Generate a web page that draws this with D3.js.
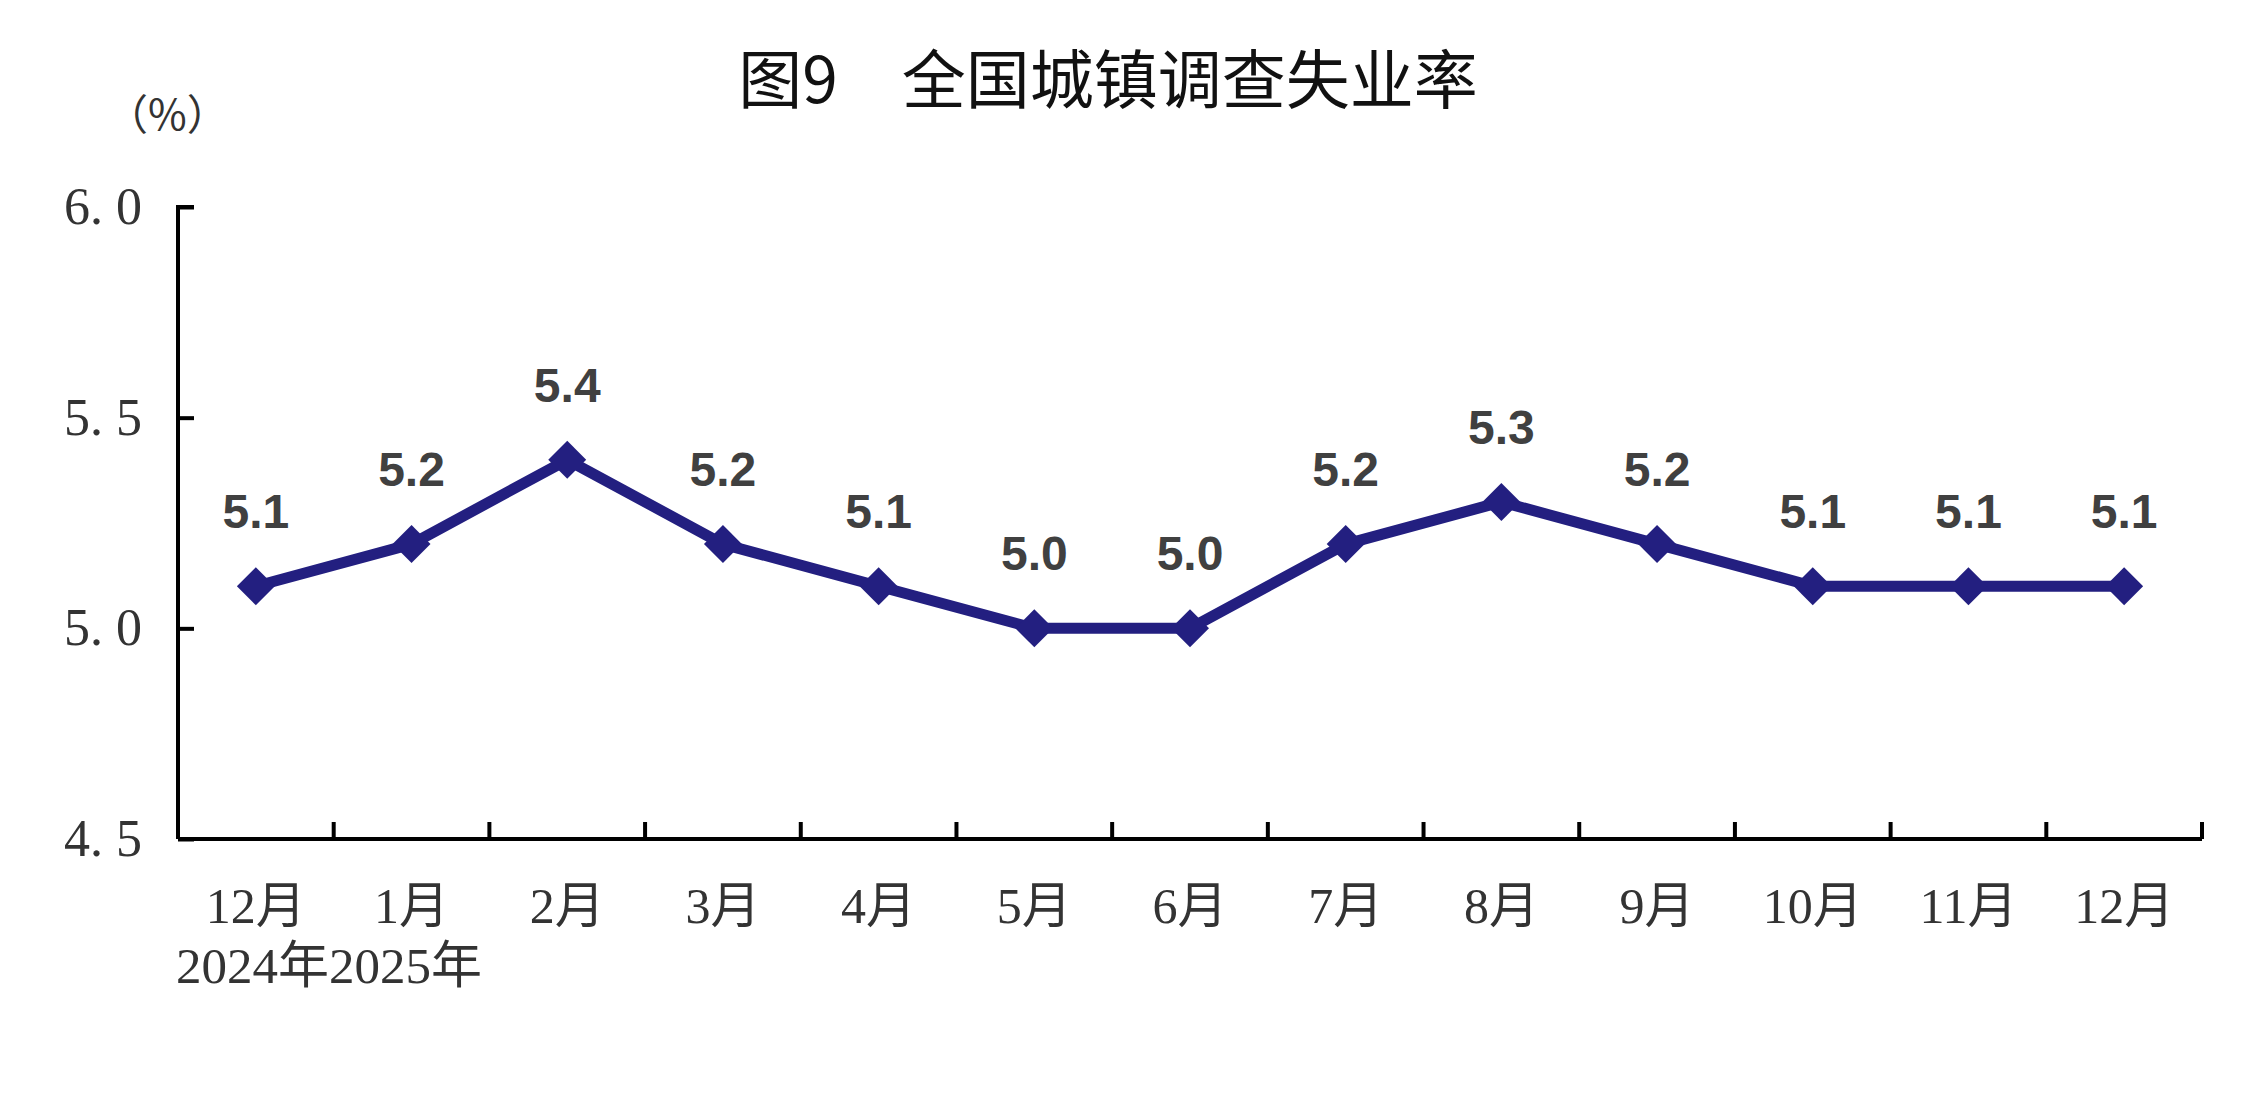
<!DOCTYPE html>
<html>
<head>
<meta charset="utf-8">
<script src="https://cdn.jsdelivr.net/npm/d3@7"></script>
<style>
  body { margin: 0; background: #fff; }
  svg { display: block; }
</style>
</head>
<body>
<svg width="2267" height="1106"></svg>
<script>
// data
const months = ["12月", "1月", "2月", "3月", "4月", "5月", "6月", "7月", "8月", "9月", "10月", "11月", "12月"];
const rates = [5.1, 5.2, 5.4, 5.2, 5.1, 5.0, 5.0, 5.2, 5.3, 5.2, 5.1, 5.1, 5.1];
const yTicks = [4.5, 5.0, 5.5, 6.0];
const yearNote = "2024年2025年";
const titleText = "图9　全国城镇调查失业率";
const unitText = "（%）";

const svg = d3.select("svg");
const width = +svg.attr("width");
const margin = { top: 207, right: 65, bottom: 267, left: 178 };
const height = +svg.attr("height");
const innerW = width - margin.left - margin.right;
const innerH = height - margin.top - margin.bottom;

const serif = "'Liberation Serif', 'DejaVu Serif', 'Noto Sans CJK SC', serif";
const sans = "'Liberation Sans', Arial, sans-serif";
const lineColor = "#231f80";

const x = d3.scaleBand().domain(d3.range(months.length)).range([0, innerW]);
const y = d3.scaleLinear().domain([4.5, 6.0]).range([innerH, 0]);

// title
svg.append("text")
  .attr("x", 1108).attr("y", 103)
  .attr("text-anchor", "middle")
  .attr("font-family", "'Noto Sans CJK SC', sans-serif")
  .attr("font-size", 64)
  .attr("fill", "#111")
  .text(titleText);

svg.append("text")
  .attr("x", 106).attr("y", 130)
  .attr("font-family", "'Noto Sans CJK SC', serif")
  .attr("font-size", 42)
  .attr("fill", "#333")
  .text(unitText);

const g = svg.append("g").attr("transform", `translate(${margin.left},${margin.top})`);

// y axis
const yAxis = g.append("g")
  .call(d3.axisLeft(y).tickValues(yTicks).tickSize(-16).tickPadding(36)
    .tickFormat(d => d.toFixed(1).replace(".", ". ")));
yAxis.select(".domain").attr("stroke", "#000").attr("stroke-width", 4)
  .attr("d", `M16,0H0V${innerH}`);
yAxis.selectAll(".tick line").attr("stroke", "#000").attr("stroke-width", 4);
yAxis.selectAll(".tick text")
  .attr("font-family", serif).attr("font-size", 52).attr("fill", "#333");

// x axis, ticks between categories pointing up
const xAxisG = g.append("g").attr("transform", `translate(0,${innerH})`);
xAxisG.append("line")
  .attr("x1", 0).attr("x2", innerW).attr("y1", 0).attr("y2", 0)
  .attr("stroke", "#000").attr("stroke-width", 4);
xAxisG.selectAll(".xtick")
  .data(d3.range(1, months.length + 1))
  .enter().append("line")
  .attr("x1", i => i === months.length ? innerW : x(i))
  .attr("x2", i => i === months.length ? innerW : x(i))
  .attr("y1", 0).attr("y2", -17)
  .attr("stroke", "#000").attr("stroke-width", 4);
xAxisG.selectAll(".xlabel")
  .data(months)
  .enter().append("text")
  .attr("x", (d, i) => x(i) + x.bandwidth() / 2)
  .attr("y", 84)
  .attr("text-anchor", "middle")
  .attr("font-family", serif)
  .attr("font-size", 50)
  .attr("fill", "#333")
  .text(d => d);
xAxisG.append("text")
  .attr("x", -2).attr("y", 144)
  .attr("font-family", serif)
  .attr("font-size", 51)
  .attr("fill", "#333")
  .text(yearNote);

// line
const cx = (d, i) => x(i) + x.bandwidth() / 2;
g.append("path")
  .datum(rates)
  .attr("fill", "none")
  .attr("stroke", lineColor)
  .attr("stroke-width", 11)
  .attr("stroke-linejoin", "round")
  .attr("d", d3.line().x(cx).y(d => y(d)));

// diamond markers
g.selectAll(".marker")
  .data(rates)
  .enter().append("path")
  .attr("transform", (d, i) => `translate(${cx(d, i)},${y(d)}) rotate(45)`)
  .attr("d", d3.symbol().type(d3.symbolSquare).size(720))
  .attr("fill", lineColor);

// value labels
g.selectAll(".vlabel")
  .data(rates)
  .enter().append("text")
  .attr("x", cx)
  .attr("y", d => y(d) - 58)
  .attr("text-anchor", "middle")
  .attr("font-family", sans)
  .attr("font-weight", "bold")
  .attr("font-size", 48)
  .attr("fill", "#404040")
  .text(d => d.toFixed(1));
</script>
</body>
</html>
